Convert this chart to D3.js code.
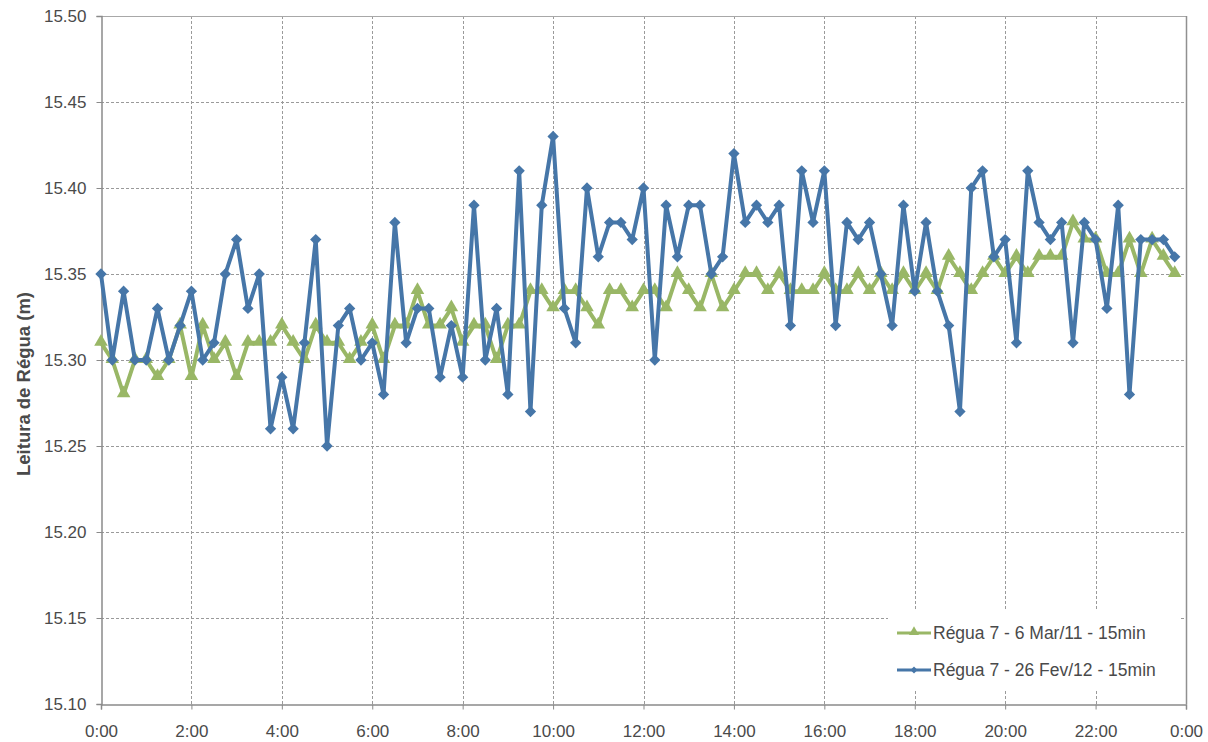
<!DOCTYPE html>
<html>
<head>
<meta charset="utf-8">
<script src="https://cdn.jsdelivr.net/npm/d3@7"></script>
<style>
  html, body { margin: 0; padding: 0; background: #ffffff; }
  svg { display: block; font-family: "Liberation Sans", Arial, sans-serif; }
</style>
</head>
<body>
<svg id="chart" width="1208" height="742"></svg>
<script>
// ---- Data ----
const times = [
  "0:00","0:15","0:30","0:45","1:00","1:15","1:30","1:45",
  "2:00","2:15","2:30","2:45","3:00","3:15","3:30","3:45",
  "4:00","4:15","4:30","4:45","5:00","5:15","5:30","5:45",
  "6:00","6:15","6:30","6:45","7:00","7:15","7:30","7:45",
  "8:00","8:15","8:30","8:45","9:00","9:15","9:30","9:45",
  "10:00","10:15","10:30","10:45","11:00","11:15","11:30","11:45",
  "12:00","12:15","12:30","12:45","13:00","13:15","13:30","13:45",
  "14:00","14:15","14:30","14:45","15:00","15:15","15:30","15:45",
  "16:00","16:15","16:30","16:45","17:00","17:15","17:30","17:45",
  "18:00","18:15","18:30","18:45","19:00","19:15","19:30","19:45",
  "20:00","20:15","20:30","20:45","21:00","21:15","21:30","21:45",
  "22:00","22:15","22:30","22:45","23:00","23:15","23:30","23:45"
];

const seriesMar11 = [
  15.31,15.30,15.28,15.30,15.30,15.29,15.30,15.32,
  15.29,15.32,15.30,15.31,15.29,15.31,15.31,15.31,
  15.32,15.31,15.30,15.32,15.31,15.31,15.30,15.31,
  15.32,15.30,15.32,15.32,15.34,15.32,15.32,15.33,
  15.31,15.32,15.32,15.30,15.32,15.32,15.34,15.34,
  15.33,15.34,15.34,15.33,15.32,15.34,15.34,15.33,
  15.34,15.34,15.33,15.35,15.34,15.33,15.35,15.33,
  15.34,15.35,15.35,15.34,15.35,15.34,15.34,15.34,
  15.35,15.34,15.34,15.35,15.34,15.35,15.34,15.35,
  15.34,15.35,15.34,15.36,15.35,15.34,15.35,15.36,
  15.35,15.36,15.35,15.36,15.36,15.36,15.38,15.37,
  15.37,15.35,15.35,15.37,15.35,15.37,15.36,15.35
];

const seriesFev12 = [
  15.35,15.30,15.34,15.30,15.30,15.33,15.30,15.32,
  15.34,15.30,15.31,15.35,15.37,15.33,15.35,15.26,
  15.29,15.26,15.31,15.37,15.25,15.32,15.33,15.30,
  15.31,15.28,15.38,15.31,15.33,15.33,15.29,15.32,
  15.29,15.39,15.30,15.33,15.28,15.41,15.27,15.39,
  15.43,15.33,15.31,15.40,15.36,15.38,15.38,15.37,
  15.40,15.30,15.39,15.36,15.39,15.39,15.35,15.36,
  15.42,15.38,15.39,15.38,15.39,15.32,15.41,15.38,
  15.41,15.32,15.38,15.37,15.38,15.35,15.32,15.39,
  15.34,15.38,15.34,15.32,15.27,15.40,15.41,15.36,
  15.37,15.31,15.41,15.38,15.37,15.38,15.31,15.38,
  15.37,15.33,15.39,15.28,15.37,15.37,15.37,15.36
];

const seriesNames = ["Régua 7 - 6 Mar/11 - 15min", "Régua 7 - 26 Fev/12 - 15min"];
const xTickLabels = ["0:00","2:00","4:00","6:00","8:00","10:00","12:00","14:00","16:00","18:00","20:00","22:00","0:00"];
const xTickMinutes = [0,120,240,360,480,600,720,840,960,1080,1200,1320,1440];
const yTicks = [15.10,15.15,15.20,15.25,15.30,15.35,15.40,15.45,15.50];
const yTitle = "Leitura de Régua (m)";

// ---- Layout ----
const svg = d3.select("#chart");
const L = 101, R = 1186, T = 16, B = 704;
const colGreen = "#99b766", colBlue = "#4676a8";
const gridCol = "#9a9a9a", axisCol = "#8a8a8a", textCol = "#4a4a4a";

const toMin = s => { const p = s.split(":"); return (+p[0]) * 60 + (+p[1]); };
const x = d3.scaleLinear().domain([0, 1440]).range([L, R]);
const y = d3.scaleLinear().domain([15.10, 15.50]).range([B, T]);

// Gridlines
const grid = svg.append("g");
grid.selectAll("line.h").data(yTicks.filter(v => v > 15.101 && v < 15.499)).enter().append("line")
  .attr("x1", L).attr("x2", R).attr("y1", d => Math.round(y(d)) + 0.5).attr("y2", d => Math.round(y(d)) + 0.5)
  .attr("stroke", gridCol).attr("stroke-width", 1).attr("stroke-dasharray", "3,2");
grid.selectAll("line.v").data(xTickMinutes.filter(v => v > 0 && v < 1440)).enter().append("line")
  .attr("x1", d => Math.round(x(d)) + 0.5).attr("x2", d => Math.round(x(d)) + 0.5).attr("y1", T).attr("y2", B)
  .attr("stroke", gridCol).attr("stroke-width", 1).attr("stroke-dasharray", "3,2");

// Frame top/right
svg.append("line").attr("x1", L).attr("x2", R + 0.5).attr("y1", T + 0.5).attr("y2", T + 0.5).attr("stroke", "#a8a8a8").attr("stroke-width", 1.2);
svg.append("line").attr("x1", R + 0.5).attr("x2", R + 0.5).attr("y1", T).attr("y2", B).attr("stroke", "#909090").attr("stroke-width", 1.5);

// Axes
const xAxis = d3.axisBottom(x).tickValues(xTickMinutes).tickSize(5).tickPadding(15)
  .tickFormat((d, i) => xTickLabels[i]);
const gx = svg.append("g").attr("transform", `translate(0,${B + 0.5})`).call(xAxis);
gx.select(".domain").attr("stroke", axisCol).attr("stroke-width", 1.5);
gx.selectAll(".tick line").attr("stroke", axisCol);
gx.selectAll("text").attr("fill", textCol).attr("font-size", 17).attr("font-family", "Liberation Sans, Arial, sans-serif");

const yAxis = d3.axisLeft(y).tickValues(yTicks).tickSize(5).tickPadding(10).tickFormat(d3.format(".2f"));
const gy = svg.append("g").attr("transform", `translate(${L + 0.5},0)`).call(yAxis);
gy.select(".domain").attr("stroke", axisCol).attr("stroke-width", 1.5);
gy.selectAll(".tick line").attr("stroke", axisCol);
gy.selectAll("text").attr("fill", textCol).attr("font-size", 17).attr("font-family", "Liberation Sans, Arial, sans-serif");

// Y title
svg.append("text")
  .attr("transform", `translate(23,384) rotate(-90)`)
  .attr("text-anchor", "middle").attr("dominant-baseline", "central")
  .attr("font-size", 18.5).attr("font-weight", "bold").attr("fill", textCol)
  .text(yTitle);

// Series
const line = d3.line().x(d => x(d.t)).y(d => y(d.v));
const mk = arr => arr.map((v, i) => ({ t: toMin(times[i]), v }));
const dataG = mk(seriesMar11), dataB = mk(seriesFev12);

const triangle = d3.symbol().type(d3.symbolTriangle).size(80);
const diamond = d3.symbol().type(d3.symbolSquare).size(64);

svg.append("path").datum(dataG).attr("d", line).attr("fill", "none")
  .attr("stroke", colGreen).attr("stroke-width", 4).attr("stroke-linejoin", "round");
svg.append("g").selectAll("path").data(dataG).enter().append("path")
  .attr("d", triangle).attr("transform", d => `translate(${x(d.t)},${y(d.v) - 1})`).attr("fill", colGreen);

svg.append("path").datum(dataB).attr("d", line).attr("fill", "none")
  .attr("stroke", colBlue).attr("stroke-width", 4).attr("stroke-linejoin", "round");
svg.append("g").selectAll("path").data(dataB).enter().append("path")
  .attr("d", diamond).attr("transform", d => `translate(${x(d.t)},${y(d.v)}) rotate(45)`).attr("fill", colBlue);

// Legend
const lg = svg.append("g");
lg.append("rect").attr("x", 888).attr("y", 611).attr("width", 292).attr("height", 78).attr("fill", "#ffffff");
const legendItems = [
  { name: seriesNames[0], color: colGreen, sym: "tri", yy: 633 },
  { name: seriesNames[1], color: colBlue, sym: "dia", yy: 670 }
];
legendItems.forEach(it => {
  lg.append("line").attr("x1", 897).attr("x2", 931).attr("y1", it.yy).attr("y2", it.yy)
    .attr("stroke", it.color).attr("stroke-width", 3);
  const p = lg.append("path").attr("fill", it.color);
  if (it.sym === "tri") p.attr("d", d3.symbol().type(d3.symbolTriangle).size(44)).attr("transform", `translate(914,${it.yy - 1})`);
  else p.attr("d", d3.symbol().type(d3.symbolSquare).size(24)).attr("transform", `translate(914,${it.yy}) rotate(45)`);
  lg.append("text").attr("x", 933).attr("y", it.yy).attr("dominant-baseline", "central")
    .attr("font-size", 17.5).attr("fill", textCol).text(it.name);
});
</script>
</body>
</html>
